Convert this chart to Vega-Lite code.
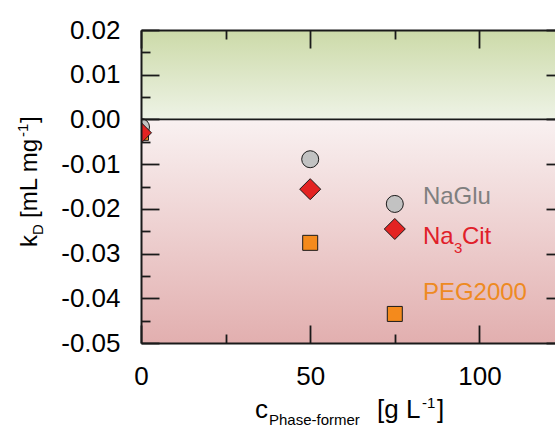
{
  "$schema": "https://vega.github.io/schema/vega-lite/v6.json",
  "width": 414,
  "height": 313,
  "autosize": {"type": "none"},
  "padding": {"left": 141, "top": 30, "right": 0, "bottom": 88},
  "background": "white",
  "view": {"stroke": null},
  "config": {
    "axis": {
      "labelFont": "Liberation Sans",
      "titleFont": "Liberation Sans",
      "domainColor": "#1a1a1a",
      "tickColor": "#1a1a1a",
      "domainWidth": 2,
      "tickWidth": 1.8,
      "labelColor": "#000000",
      "grid": false,
      "labelFlush": false,
      "labelOverlap": false,
      "labelBound": false
    },
    "text": {"font": "Liberation Sans"}
  },
  "data": {
    "values": [
      {"series": "PEG2000", "c": 0, "kD": -0.003},
      {"series": "PEG2000", "c": 50, "kD": -0.0276},
      {"series": "PEG2000", "c": 75, "kD": -0.0435},
      {"series": "NaGlu", "c": 0, "kD": -0.0017},
      {"series": "NaGlu", "c": 50, "kD": -0.0089},
      {"series": "NaGlu", "c": 75, "kD": -0.0189},
      {"series": "Na3Cit", "c": 0, "kD": -0.003},
      {"series": "Na3Cit", "c": 50, "kD": -0.0156},
      {"series": "Na3Cit", "c": 75, "kD": -0.0245}
    ]
  },
  "layer": [
    {
      "data": {"values": [{}]},
      "mark": {"type": "rect", "clip": true, "fill": {"gradient": "linear", "x1": 0, "y1": 0, "x2": 0, "y2": 1, "stops": [{"offset": 0, "color": "#ccdaa8"}, {"offset": 1, "color": "#eef3e6"}]}},
      "encoding": {
        "x": {"datum": 0, "type": "quantitative", "scale": {"domain": [0, 122.34], "nice": false, "zero": false},
          "axis": {"orient": "bottom", "values": [0, 25, 50, 75, 100], "title": null, "zindex": 1,
            "tickSize": {"condition": {"test": "datum.value % 50 === 0", "value": -18}, "value": -9},
            "labelExpr": "datum.value % 50 === 0 ? '' + datum.value : ''",
            "labelFontSize": 26, "labelPadding": 38}},
        "x2": {"datum": 122.34},
        "y": {"datum": 0.02, "type": "quantitative", "scale": {"domain": [-0.05, 0.02], "nice": false, "zero": false},
          "axis": {"orient": "left", "title": null, "zindex": 1,
            "values": [-0.05, -0.045, -0.04, -0.035, -0.03, -0.025, -0.02, -0.015, -0.01, -0.005, 0, 0.005, 0.01, 0.015, 0.02],
            "tickSize": {"condition": {"test": "abs(datum.value * 100 - round(datum.value * 100)) < 0.001", "value": -18}, "value": -9},
            "labelExpr": "abs(datum.value * 100 - round(datum.value * 100)) < 0.001 ? (datum.value < -0.0001 ? '-' + format(-datum.value, '.2f') : format(abs(datum.value), '.2f')) : ''",
            "labelFontSize": 26, "labelPadding": 39}},
        "y2": {"datum": 0}
      }
    },
    {
      "data": {"values": [{}]},
      "mark": {"type": "rect", "clip": true, "fill": {"gradient": "linear", "x1": 0, "y1": 0, "x2": 0, "y2": 1, "stops": [{"offset": 0, "color": "#f9f1f1"}, {"offset": 1, "color": "#e2afaf"}]}},
      "encoding": {
        "x": {"datum": 0, "type": "quantitative",
          "axis": {"orient": "top", "values": [0, 25, 50, 75, 100], "title": null, "labels": false, "zindex": 1,
            "tickSize": {"condition": {"test": "datum.value % 50 === 0", "value": -18}, "value": -9}}},
        "x2": {"datum": 122.34},
        "y": {"datum": 0, "type": "quantitative",
          "axis": {"orient": "right", "title": null, "labels": false, "domain": false, "zindex": 1,
            "values": [-0.05, -0.04, -0.03, -0.02, -0.01, 0, 0.01, 0.02], "tickSize": -9}},
        "y2": {"datum": -0.05}
      }
    },
    {
      "data": {"values": [{}]},
      "mark": {"type": "rule", "color": "#1a1a1a", "strokeWidth": 1.8},
      "encoding": {"y": {"datum": 0, "type": "quantitative", "axis": null}}
    },
    {
      "mark": {"type": "point", "filled": true, "clip": true, "stroke": "#1a1a1a", "strokeWidth": 1, "opacity": 1},
      "encoding": {
        "x": {"field": "c", "type": "quantitative", "axis": null},
        "y": {"field": "kD", "type": "quantitative", "axis": null},
        "fill": {"field": "series", "type": "nominal", "scale": {"domain": ["NaGlu", "Na3Cit", "PEG2000"], "range": ["#c2c2c2", "#e32322", "#f48a1c"]}, "legend": null},
        "shape": {"field": "series", "type": "nominal", "scale": {"domain": ["NaGlu", "Na3Cit", "PEG2000"], "range": ["circle", "diamond", "square"]}, "legend": null},
        "size": {"field": "series", "type": "nominal", "scale": {"type": "ordinal", "domain": ["NaGlu", "Na3Cit", "PEG2000"], "range": [289, 441, 225]}, "legend": null}
      }
    },
    {
      "data": {"values": [{}]},
      "mark": {"type": "text", "align": "left", "baseline": "alphabetic", "fontSize": 24, "color": "#7f7f7f"},
      "encoding": {"x": {"datum": 83.3, "type": "quantitative", "axis": null}, "y": {"datum": -0.0189, "type": "quantitative", "axis": null}, "text": {"value": "NaGlu"}}
    },
    {
      "data": {"values": [{}]},
      "mark": {"type": "text", "align": "left", "baseline": "alphabetic", "fontSize": 24, "color": "#e0202a"},
      "encoding": {"x": {"datum": 83.3, "type": "quantitative", "axis": null}, "y": {"datum": -0.0279, "type": "quantitative", "axis": null}, "text": {"value": "Na"}}
    },
    {
      "data": {"values": [{}]},
      "mark": {"type": "text", "align": "left", "baseline": "alphabetic", "fontSize": 15, "color": "#e0202a", "dx": 31, "dy": 9},
      "encoding": {"x": {"datum": 83.3, "type": "quantitative", "axis": null}, "y": {"datum": -0.0279, "type": "quantitative", "axis": null}, "text": {"value": "3"}}
    },
    {
      "data": {"values": [{}]},
      "mark": {"type": "text", "align": "left", "baseline": "alphabetic", "fontSize": 24, "color": "#e0202a", "dx": 39},
      "encoding": {"x": {"datum": 83.3, "type": "quantitative", "axis": null}, "y": {"datum": -0.0279, "type": "quantitative", "axis": null}, "text": {"value": "Cit"}}
    },
    {
      "data": {"values": [{}]},
      "mark": {"type": "text", "align": "left", "baseline": "alphabetic", "fontSize": 24, "color": "#ee8a22"},
      "encoding": {"x": {"datum": 83.3, "type": "quantitative", "axis": null}, "y": {"datum": -0.0404, "type": "quantitative", "axis": null}, "text": {"value": "PEG2000"}}
    },
    {
      "data": {"values": [{}]},
      "mark": {"type": "text", "align": "left", "baseline": "alphabetic", "fontSize": 24, "color": "#000000", "angle": -90, "dx": 96, "dy": -104},
      "encoding": {"x": {"datum": 0, "type": "quantitative", "axis": null}, "y": {"datum": -0.05, "type": "quantitative", "axis": null}, "text": {"value": "k"}}
    },
    {
      "data": {"values": [{}]},
      "mark": {"type": "text", "align": "left", "baseline": "alphabetic", "fontSize": 15, "color": "#000000", "angle": -90, "dx": 108, "dy": -98},
      "encoding": {"x": {"datum": 0, "type": "quantitative", "axis": null}, "y": {"datum": -0.05, "type": "quantitative", "axis": null}, "text": {"value": "D"}}
    },
    {
      "data": {"values": [{}]},
      "mark": {"type": "text", "align": "left", "baseline": "alphabetic", "fontSize": 24, "color": "#000000", "angle": -90, "dx": 125, "dy": -104},
      "encoding": {"x": {"datum": 0, "type": "quantitative", "axis": null}, "y": {"datum": -0.05, "type": "quantitative", "axis": null}, "text": {"value": "[mL mg"}}
    },
    {
      "data": {"values": [{}]},
      "mark": {"type": "text", "align": "left", "baseline": "alphabetic", "fontSize": 15, "color": "#000000", "angle": -90, "dx": 206, "dy": -113},
      "encoding": {"x": {"datum": 0, "type": "quantitative", "axis": null}, "y": {"datum": -0.05, "type": "quantitative", "axis": null}, "text": {"value": "-1"}}
    },
    {
      "data": {"values": [{}]},
      "mark": {"type": "text", "align": "left", "baseline": "alphabetic", "fontSize": 24, "color": "#000000", "angle": -90, "dx": 220, "dy": -104},
      "encoding": {"x": {"datum": 0, "type": "quantitative", "axis": null}, "y": {"datum": -0.05, "type": "quantitative", "axis": null}, "text": {"value": "]"}}
    },
    {
      "data": {"values": [{}]},
      "mark": {"type": "text", "align": "left", "baseline": "alphabetic", "fontSize": 26, "color": "#000000", "dx": 114, "dy": 75},
      "encoding": {"x": {"datum": 0, "type": "quantitative", "axis": null}, "y": {"datum": -0.05, "type": "quantitative", "axis": null}, "text": {"value": "c"}}
    },
    {
      "data": {"values": [{}]},
      "mark": {"type": "text", "align": "left", "baseline": "alphabetic", "fontSize": 15, "color": "#000000", "dx": 128, "dy": 82},
      "encoding": {"x": {"datum": 0, "type": "quantitative", "axis": null}, "y": {"datum": -0.05, "type": "quantitative", "axis": null}, "text": {"value": "Phase-former"}}
    },
    {
      "data": {"values": [{}]},
      "mark": {"type": "text", "align": "left", "baseline": "alphabetic", "fontSize": 26, "color": "#000000", "dx": 236, "dy": 75},
      "encoding": {"x": {"datum": 0, "type": "quantitative", "axis": null}, "y": {"datum": -0.05, "type": "quantitative", "axis": null}, "text": {"value": "[g L"}}
    },
    {
      "data": {"values": [{}]},
      "mark": {"type": "text", "align": "left", "baseline": "alphabetic", "fontSize": 15, "color": "#000000", "dx": 281, "dy": 65},
      "encoding": {"x": {"datum": 0, "type": "quantitative", "axis": null}, "y": {"datum": -0.05, "type": "quantitative", "axis": null}, "text": {"value": "-1"}}
    },
    {
      "data": {"values": [{}]},
      "mark": {"type": "text", "align": "left", "baseline": "alphabetic", "fontSize": 26, "color": "#000000", "dx": 296, "dy": 75},
      "encoding": {"x": {"datum": 0, "type": "quantitative", "axis": null}, "y": {"datum": -0.05, "type": "quantitative", "axis": null}, "text": {"value": "]"}}
    }
  ],
  "resolve": {"axis": {"x": "independent", "y": "independent"}}
}
